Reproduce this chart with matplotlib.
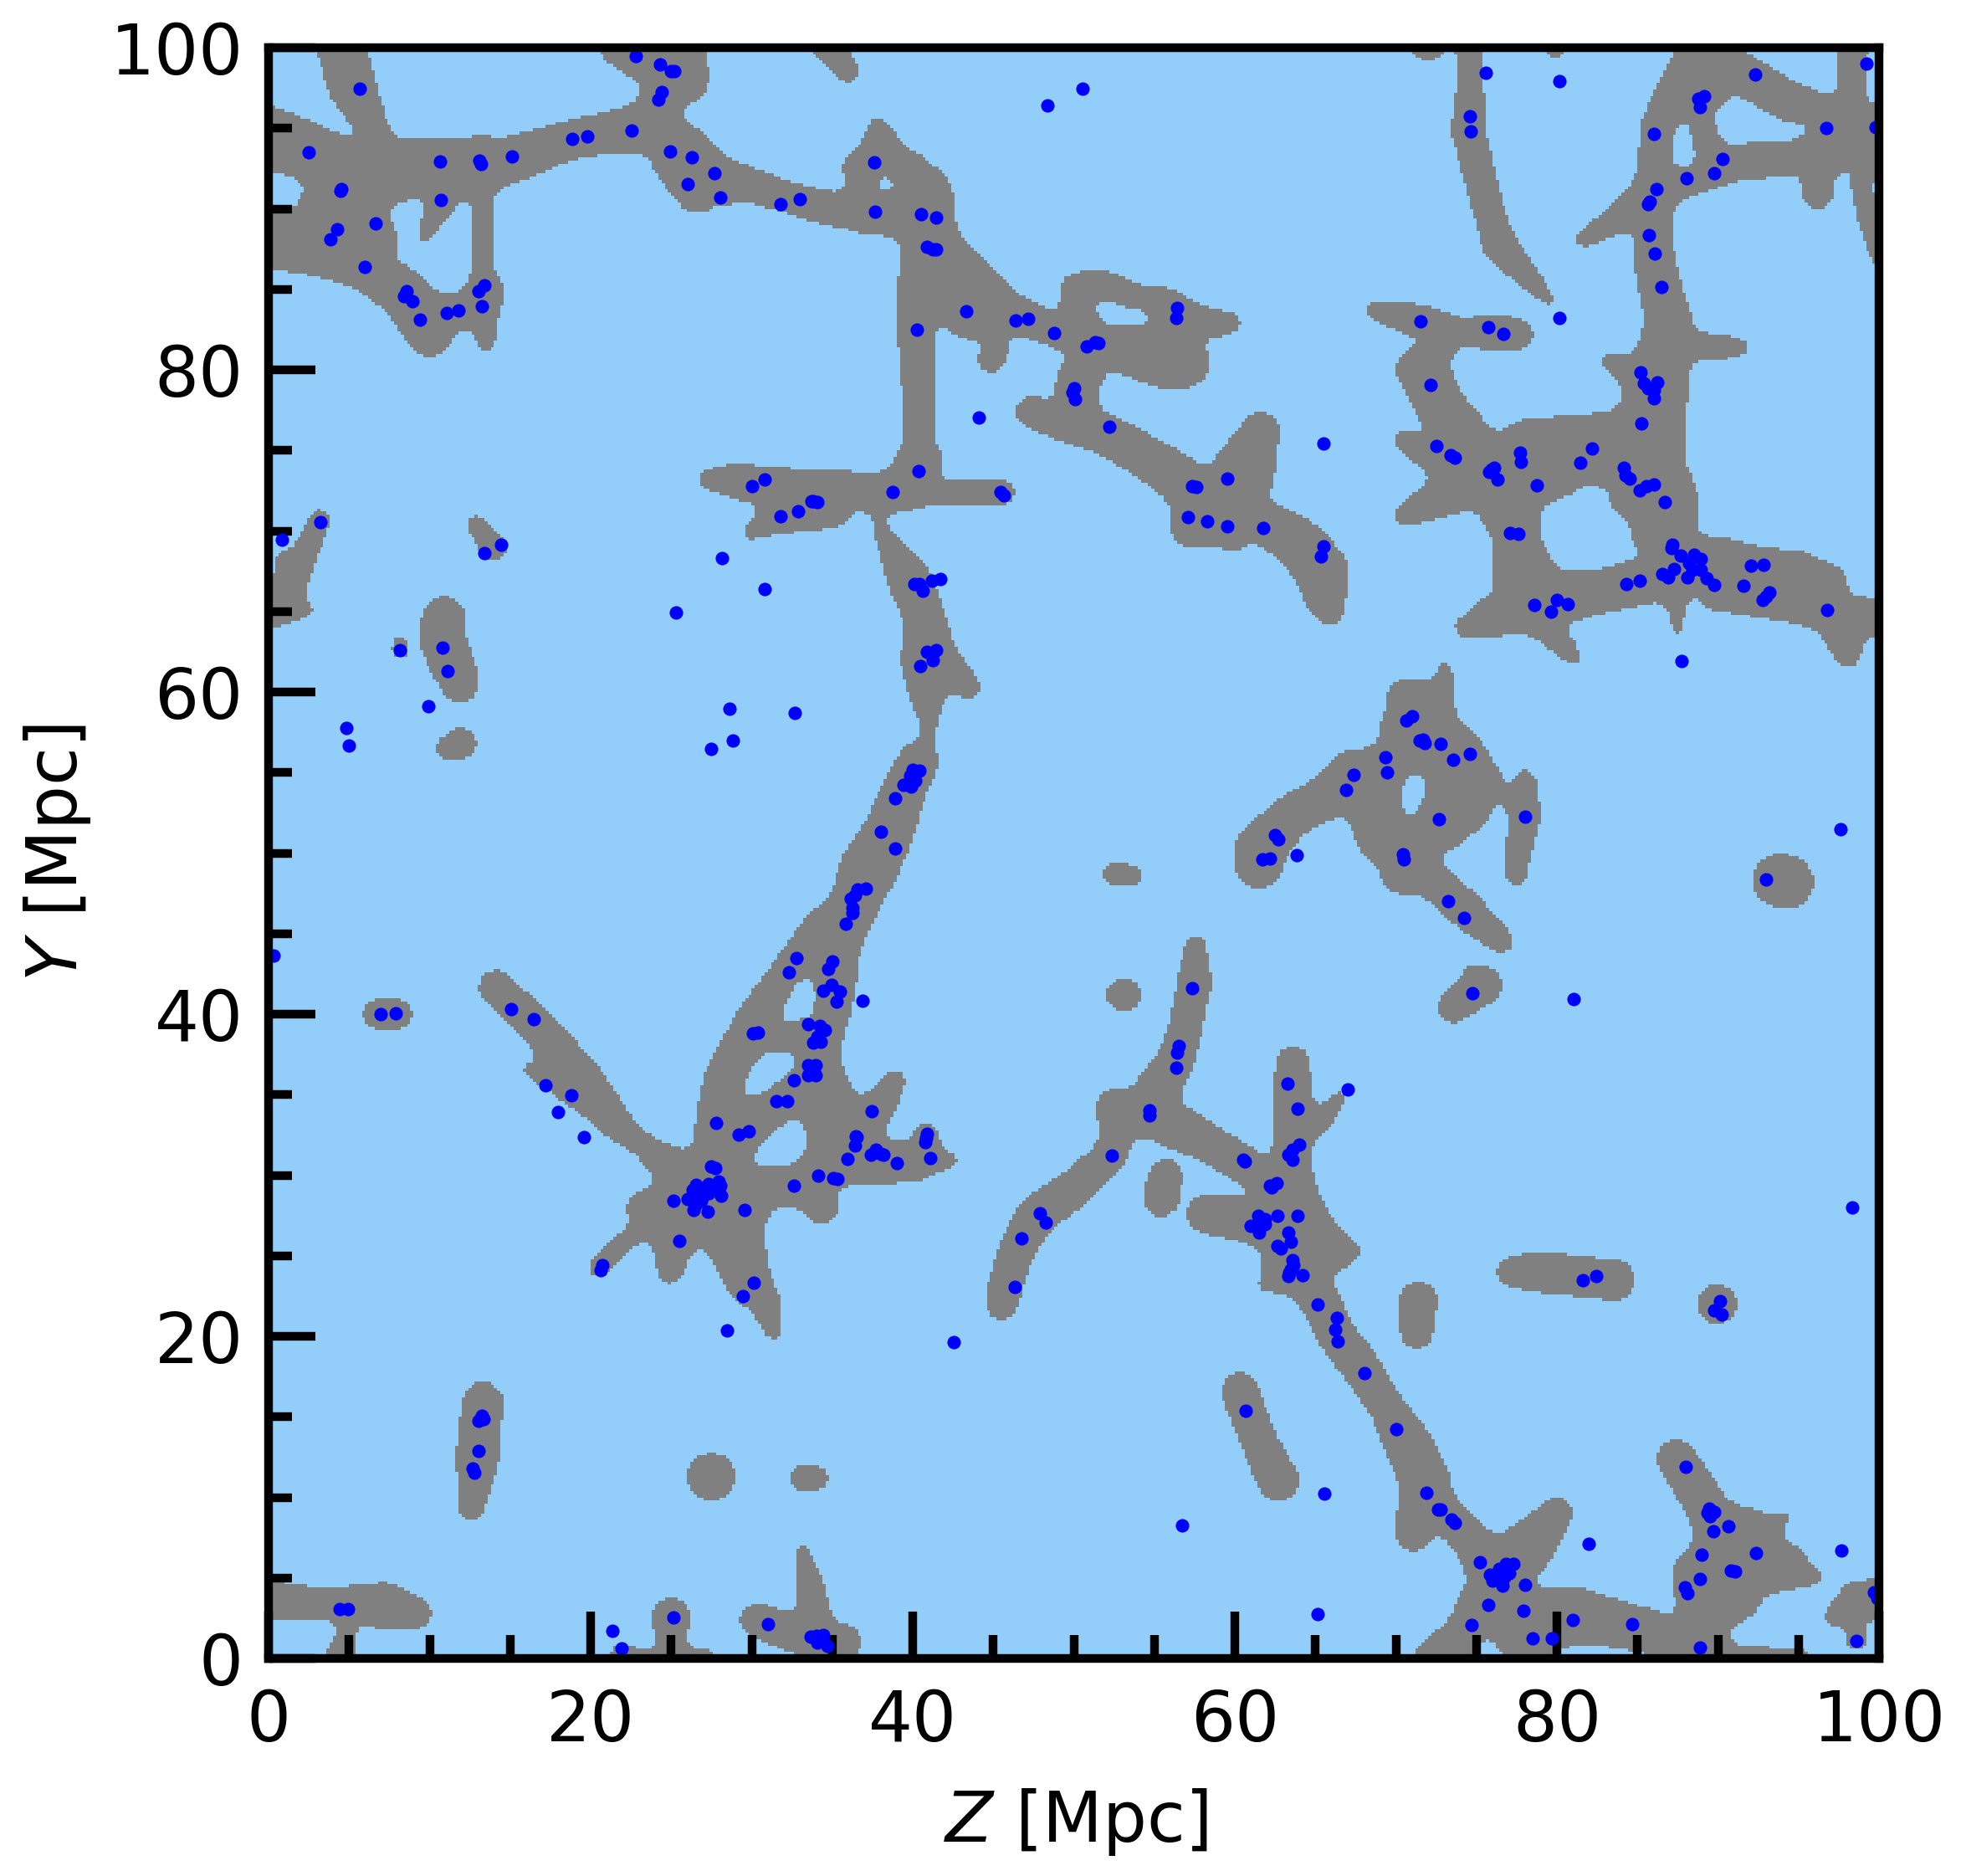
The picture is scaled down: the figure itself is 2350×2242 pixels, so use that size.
import numpy as np
import matplotlib
matplotlib.use("Agg")
import matplotlib.pyplot as plt
from matplotlib.colors import ListedColormap

# ---- halo positions (Z, Y) in Mpc ----
HALOS_TOP_LEFT = [(5.68,97.46),(2.47,93.5),(10.67,92.94),(13.1,92.98),(13.2,92.8),(15.13,93.24),(18.87,94.34),(19.81,94.51),
 (22.56,94.84),(22.78,99.5),(24.29,98.95),(25.0,98.53),(25.2,98.53),(24.44,97.25),(24.22,96.76),(24.95,93.55),(26.26,93.2),
 (27.7,92.2),(26.04,91.54),(28.03,90.71),(31.81,90.29),(33.0,90.6),(4.5,91.23),(4.46,91.12),(10.71,90.53),(6.67,89.09),
 (4.24,88.72),(3.83,88.08),(5.99,86.38),(8.55,84.89),(8.44,84.56),(8.96,84.26),(9.38,83.1),(11.08,83.52),(11.78,83.67),
 (13.42,85.24),(13.05,84.89),(13.23,83.93),(3.24,70.55),(0.85,69.44),(14.43,69.13),(13.42,68.6),(30.04,72.8),(30.83,73.18),
 (33.7,71.84),(32.9,71.23),(31.77,70.9),(28.18,68.3),(30.78,66.38)]
HALOS_TOP_MID = [(50.55,97.44),(48.38,96.4),(37.63,92.87),(37.67,89.81),(40.53,89.66),(41.48,89.44),(40.88,87.65),(41.23,87.47),
 (41.45,87.47),(43.33,83.63),(40.27,82.49),(46.4,83.06),(47.18,83.17),(48.8,82.29),(50.81,81.44),(51.33,81.7),(51.55,81.64),
 (56.43,83.82),(56.36,83.21),(50.02,78.84),(49.91,78.62),(50.09,78.2),(52.23,76.45),(44.08,77.02),(65.52,75.43),(59.55,73.24),
 (57.35,72.78),(57.61,72.72),(57.1,70.86),(58.28,70.6),(59.55,70.29),(61.79,70.18),(65.5,69.04),(65.37,68.43),(40.38,73.72),
 (38.74,72.43),(45.48,72.39),(45.65,72.21),(33.84,71.84),(34.06,71.8),(40.12,66.7),(40.4,66.7),(41.19,66.9),(41.74,67.0),(40.6,66.27)]
HALOS_TOP_RIGHT = [(75.56,98.45),(80.13,97.9),(99.24,99.0),(92.33,98.32),(89.13,97.0),(88.79,96.81),(88.9,96.33),(86.05,94.64),
 (74.6,95.74),(74.66,94.8),(96.74,95.02),(99.78,95.06),(90.29,93.09),(89.75,92.2),(88.06,91.89),(86.19,91.21),(85.79,90.42),
 (85.64,90.31),(85.73,88.37),(86.1,87.21),(86.51,85.13),(80.13,83.21),(71.51,82.99),(75.76,82.64),(76.7,82.25),(72.13,79.06),
 (85.2,79.86),(85.42,79.16),(86.21,79.2),(85.68,78.84),(86.03,78.73),(86.05,78.25),(85.27,76.67),(72.54,75.27),(73.4,74.68),
 (73.68,74.57),(76.1,73.94),(75.78,73.66),(75.96,73.81),(76.32,73.17),(77.72,74.86),(77.79,74.31),(82.2,75.12),(81.48,74.22),
 (78.73,72.82),(84.17,73.92),(84.26,73.48),(84.5,73.26),(85.14,72.5),(85.57,72.78),(86.05,72.89),(86.69,71.8),(77.09,69.87),
 (77.63,69.83),(87.19,69.15),(87.1,68.96),(87.69,68.45),(88.52,68.5),(88.96,68.28),(88.19,68.02),(88.41,67.58),(88.91,67.58),
 (88.08,67.1),(89.29,67.07),(89.75,66.64),(87.26,67.64),(86.56,67.32),(86.9,67.14),(85.16,66.9),(84.32,66.7),(92.06,67.84),
 (92.83,67.88),(91.56,66.59),(93.22,66.16),(93.0,65.94),(92.78,65.73)]
HALOS_MID_RIGHT = [(78.62,65.38),(80.02,65.7),(80.7,65.44),(79.65,64.98),(96.79,65.11),(87.76,61.92),(71.03,58.47),(70.66,58.23),
 (71.69,57.02),(71.8,56.83),(71.5,57.0),(72.8,56.8),(74.62,56.15),(73.57,55.78),(69.37,55.97),(69.44,54.99),(67.4,54.88),(66.92,53.9),
 (72.65,52.08),(78.05,52.26),(97.62,51.47),(93.0,48.34),(70.42,49.92),(70.51,49.63),(73.26,46.99),(74.25,46.0),(74.77,41.28),
 (81.05,40.91),(66.99,35.31)]
HALOS_MID_CENTRE = [(41.45,62.6),(40.89,62.51),(41.24,61.97),(40.47,61.59),(40.4,55.12),(40.0,55.17),(39.85,54.79),(40.18,54.47),
 (39.92,54.14),(39.42,54.25),(38.92,53.39),(38.0,51.3),(38.92,50.27),(37.08,47.8),(36.58,47.75),(36.42,47.36),(36.18,47.19),
 (36.25,46.6),(36.27,46.27),(35.86,45.61),(35.02,43.25),(34.76,42.81),(34.94,41.83),(34.46,41.46),(35.48,41.41),(35.29,40.8),
 (36.86,40.82),(33.52,39.38),(34.24,39.27),(34.54,38.99),(34.06,38.62),(33.84,38.22),(33.52,36.82),(33.95,36.82),(33.52,36.21),
 (33.95,36.21),(37.47,33.96),(36.47,32.43),(54.72,34.02),(54.72,33.74),(57.37,41.61),(56.54,38.05),(56.43,37.63),(56.38,36.65),
 (62.49,51.12),(62.7,50.86),(61.72,49.59),(62.16,49.66),(63.86,49.85),(63.29,35.69),(63.9,34.11)]
HALOS_MID_LEFT = [(25.32,64.96),(8.13,62.62),(10.78,62.73),(11.11,61.29),(9.9,59.14),(4.85,57.75),(5.01,56.65),(28.6,58.95),
 (32.68,58.69),(28.81,56.98),(27.46,56.46),(0.31,43.62),(32.77,43.49),(32.33,42.59),(6.97,39.99),(7.91,40.04),(15.04,40.3),
 (16.48,39.67),(30.1,38.79),(30.37,38.84),(34.28,38.29),(32.6,35.88),(31.53,34.59),(32.23,34.62),(17.18,35.58),(18.82,34.96),
 (17.95,33.92),(19.59,32.38),(27.79,33.26),(29.21,32.54),(29.84,32.71)]
HALOS_BOTTOM_LEFT = [(27.48,30.55),(27.74,30.44),(32.62,29.33),(26.54,29.41),(26.32,29.09),(26.65,28.76),(26.98,29.2),(27.3,29.46),
 (27.62,29.2),(27.96,29.63),(28.03,29.37),(28.12,28.72),(26.98,28.65),(26.04,28.5),(27.3,28.87),(26.54,28.21),(26.87,28.43),
 (26.37,27.84),(27.28,27.75),(25.12,28.41),(29.58,27.82),(25.52,25.9),(20.75,24.43),(20.64,24.12),(30.15,23.31),(29.47,22.48),
 (28.49,20.34),(13.23,15.07),(13.36,14.88),(13.05,14.77),(13.05,12.86),(12.68,11.77),(12.77,11.55),(4.39,3.05),(4.96,3.09),
 (21.36,1.69),(21.93,0.6),(25.16,2.57),(31.02,2.15)]
HALOS_BOTTOM_MID = [(36.51,32.37),(36.42,31.86),(35.96,31.01),(37.39,31.27),(37.71,31.56),(38.04,31.34),(38.2,31.27),(39.03,30.73),
 (40.88,32.58),(40.84,32.3),(40.78,32.04),(41.1,31.05),(34.15,29.96),(35.05,29.81),(35.31,29.79),(52.36,31.21),(60.52,30.95),
 (60.63,30.84),(62.59,29.5),(62.16,29.35),(62.31,29.24),(63.58,30.95),(63.31,31.27),(63.58,31.56),(64.01,31.89),(47.92,27.62),
 (48.27,27.08),(46.77,26.07),(46.33,23.05),(42.55,19.66),(61.46,27.49),(61.88,27.27),(61.5,27.01),(61.0,26.86),(61.88,26.94),
 (61.5,26.46),(62.66,27.49),(63.9,27.47),(63.34,26.44),(63.49,25.85),(62.66,25.63),(62.88,25.46),(63.58,24.71),(63.62,24.39),
 (63.47,24.17),(63.36,23.95),(63.31,23.73),(64.2,23.77),(65.15,22.0),(66.35,21.13),(66.24,20.41),(66.4,19.71),(60.69,15.36),
 (65.56,10.22),(56.74,8.25),(65.15,2.74),(33.67,1.37),(34.02,1.39),(34.45,1.47),(34.1,0.99),(34.72,0.77)]
HALOS_BOTTOM_RIGHT = [(98.32,27.99),(81.63,23.47),(82.42,23.73),(90.14,22.16),(89.77,21.59),(90.23,21.33),(68.06,17.72),(70.0,14.22),
 (87.98,11.88),(71.91,10.29),(72.63,9.24),(72.78,9.24),(73.44,8.6),(73.66,8.4),(81.99,7.11),(89.47,9.3),(89.79,9.08),(89.33,9.04),
 (89.5,8.82),(90.66,8.21),(89.73,7.88),(97.68,6.7),(89.0,6.44),(92.37,6.52),(90.78,5.45),(91.06,5.39),(88.9,4.93),(87.93,4.43),
 (88.11,4.03),(75.23,5.98),(77.31,5.87),(76.83,5.85),(76.39,5.54),(77.05,5.3),(75.84,5.21),(76.72,5.04),(76.02,4.82),(76.5,4.82),
 (76.61,4.53),(78.0,4.56),(75.76,3.35),(77.9,2.96),(81.0,2.39),(84.65,2.11),(74.71,2.06),(78.51,1.23),(79.67,1.23),(88.87,0.67),
 (99.67,4.12),(99.89,3.73),(98.58,1.08)]

# ---- filament spines: each path is a list of (Z, Y, half-width) in Mpc ----
WEB_TOP_LEFT = [
 [(4.3,101,1.5),(5.2,97.5,1.4),(6.75,94.5,.85)],
 [(0,94.4,1.9),(2.7,93.5,1.7),(5,92,2.2),(8,92.4,1.9),(10.5,92.7,1.6),(13.5,92.7,1.6),(15,93,1.4),(19.1,94.4,1.1),(23.5,95,1.5)],
 [(13.2,94.2,.5),(13.2,93,1)],
 [(23.5,95,1.5),(24.6,97,1.2),(25.5,98.2,1.8),(24,101,3.6)],
 [(24,95,1.4),(26,93.5,1.5),(28,92.1,1.1),(31.1,91.1,.95),(33.2,90.4,.95),(35.5,89.9,1.0),(37,90,1.5)],
 [(25,93,1.2),(26,92,1.4),(26.4,90.6,.85),(27.3,90.2,.35)],
 [(28,91,.5),(28.6,90.2,.2)],
 [(0,88.1,1.7),(3,88,2.1),(6,86.4,1.4),(8.5,84.7,1.45),(10,82.4,1.5)],
 [(4.8,90.5,2.5),(3,88,2.1)],
 [(6.6,89,1.1),(7.3,88,.75)],
 [(11.8,91.5,.6),(10.7,90.3,.85),(9.5,88,.25)],
 [(10,83.6,1.1),(13,83.8,1.1),(13.6,82,.6),(13.4,81.4,.3)],
 [(13.3,91.5,.7),(13.3,86,.7),(13.4,84.8,1.2),(13.1,83.8,1.2)],
 [(3.2,70.8,.6),(1.4,66.5,.9),(0.5,65.5,1.3),(-0.5,65,1.2)],
 [(0.75,69,.15),(0.9,66.5,.6)],
 [(3.1,65.2,.12),(1,65,.8)],
 [(4.6,65.8,.2),(4.7,65.8,.2)],
 [(12.7,70.6,.45),(14,68.9,.8)],
 [(34.5,100.5,.95),(36,98.5,.65)],
 [(36.6,96.5,.2),(36.8,96.2,.2)],
]
WEB_TOP_MID = [
 [(37.8,92.2,1.6),(37,90,1.5),(40,90.5,2.5),(41,89.5,1.6)],
 [(37,92.5,1.3),(38.5,92.5,1.6)],
 [(40.2,92.8,.7),(41,90,1.5)],
 [(37.7,95.7,.2),(38,94,1.3)],
 [(40.4,74.5,1.35),(40.3,75.75,.4),(40.4,76.5,.9),(40.4,78.5,.98),(40.2,82.9,1.15),(40.3,85,1.2),(40.8,87.6,1.5)],
 [(41,89,1.5),(41.5,87.5,1.6),(43.8,84.2,2.3),(46.5,83.4,1.1),(49.5,82.2,1.0),(51,81.8,1.0)],
 [(45.5,81.6,.5),(44.9,80.7,.85)],
 [(50.6,82.5,1.1),(50.2,85.0,1.0),(51.8,85.3,.87),(53.9,84.4,.8),(56.0,84.1,.9)],
 [(56.4,83.5,1.1),(57.2,83.1,.97),(58.5,82.9,.85),(59.9,82.9,.55)],
 [(51.5,81.7,1.0),(53.5,81.2,1.5),(55.5,80.9,2),(56.8,80.5,1.6)],
 [(56.4,83,1),(55.8,81.5,1.5)],
 [(51,80.5,1.2),(50.24,79.2,1.3),(50.2,77.5,1.2)],
 [(47.3,77.4,.9),(50,76.7,1.3),(52,76,1.2),(55,74.3,1.3),(57.5,72.5,1.5)],
 [(61.6,76.2,1.15),(60.5,73.5,2.0)],
 [(58,72,2),(60,72,1.8)],
 [(57.2,70.2,1.1),(60,70.4,1.5)],
 [(62,70.5,1.3),(64.3,69,1.55),(65.4,67.5,1.6),(65.6,65.8,1.25),(66,64.8,.7)],
 [(27.1,73.2,.5),(29,73.1,1.0),(31,72.8,1.2),(33,72.6,1.15),(36,72.5,1.15),(38.5,72.3,1.2),(41.5,72.5,.75),(45.5,72.4,.85)],
 [(29.6,69.7,.3),(31.3,70.7,.9),(33.5,71.2,1.1),(35,71.2,1.0)],
 [(38.7,72.4,.8),(40.4,74.5,1.35)],
 [(37.7,70.8,.2),(38.6,69,.7),(39.8,67,1.3),(40.8,64.5,1.25),(41,62,1.7),(40.9,60,1.15),(41,58,.45)],
 [(41.5,62,1.3),(43.5,60.3,.7)],
]
WEB_RIGHT = [
 [(74.6,101,.82),(74.6,97,.85),(74.5,94.9,1),(75.3,91.6,.9),(75.9,89.4,.9),(76.5,87.6,1),(78,86,.7),(79.6,84.2,.3)],
 [(72,100.6,1.3),(72.1,100.6,1.3)],
 [(79.9,100.2,.8),(80,100.5,.9)],
 [(86,92.3,.9),(86.2,95,1.0),(87.5,97.5,1.2),(89,99.5,1.6)],
 [(89.6,93.4,.9),(89.2,95,1.15),(89,98,1.7),(89.5,100.5,1.8)],
 [(90.5,99,1.2),(93.8,97,1.2),(97,95.3,1.4)],
 [(98.4,101,.9),(98.3,97,.82),(98,95,1.5)],
 [(87,91.7,.9),(88.5,91.7,.8),(91,92.9,1.1),(93.8,93.1,1.05),(96.5,93.7,1.3),(98,94.4,2.0),(101,94.4,2)],
 [(96.3,92.5,1),(96.2,91,.95)],
 [(99.6,91.5,1.3),(100,88.5,1.0),(100.3,86.8,.6)],
 [(81.5,88,.4),(84,89.5,.9),(86,91,1.3),(87.5,91.6,1.0)],
 [(86,91,1.2),(86,87.3,1.2),(86.4,85.1,1.25),(87,82.9,1.4),(86.6,81,1.6),(86.2,79,1.9),(85.8,76,2.1),(85.5,74,2.3),(86.5,72,2.2),(86.6,70.2,2),(87.5,68.5,1.7)],
 [(88.5,81.5,.85),(90.5,81.4,.65),(91.7,81.4,.35)],
 [(82.9,80.6,.35),(84.5,80,1.0),(86,79.2,1.9)],
 [(78.5,74.9,2.1),(81.7,75,2.1),(84.5,75.2,2.4)],
 [(79.3,72.6,.8),(80.5,72.9,.7)],
 [(84,72.4,.8),(84.4,71.6,.8)],
 [(68.6,83.7,.55),(71.6,83,1.0),(74,82.4,.75),(76.3,82.3,1.1),(77.6,82.2,.9)],
 [(73.8,82,.35),(72.8,81,.7),(71.6,80,1.5),(73,77.4,1.5),(74.5,75.2,1.8),(76.5,73,2.3),(78.5,74.5,2)],
 [(70.3,75.7,.5),(72.5,74.6,1.1),(74.5,73.5,1.3)],
 [(70.6,71,.7),(72.6,72,1.1),(74.5,73,1.8)],
 [(77,72.5,2.4),(77.4,69.8,1.37),(77.9,67.6,1.9)],
 [(74.2,64,.55),(76,64.7,1.2),(78.5,65.6,1.9),(82.5,66.2,1.3),(86,67,1.4),(88.5,67.5,1.5)],
 [(79,64.3,.9),(80.6,62.7,.6),(81.2,61.7,.3)],
 [(87.4,66,.6),(87.5,63.4,.2)],
 [(90,66.3,1.2),(92.7,65.8,1.1),(95,65.4,1.1),(97.2,64.9,1.3),(100.5,64.5,1.05)],
 [(97.2,64.9,1.3),(97.9,63,1.0),(98.1,62.1,.6)],
 [(88.5,68,1.7),(90,68.3,1.3),(92.9,68.3,.6),(95,67.9,.85),(97,66.8,1.0)],
 [(60.8,50.7,.7),(62,50.8,1.4),(63.8,52.5,1.25),(66,53.6,1.35),(67.5,54.5,1.9),(69,54,2)],
 [(61.5,49.2,1.4),(62,50.8,1.4)],
 [(70.8,59.4,1.4),(72,59.3,1.3),(72.9,57,1.5),(74,56,1.6),(75.5,54.3,1.15)],
 [(71,57.5,2),(72.8,55,2.5),(72.5,52.5,1.7),(70.5,49,1.5)],
 [(74.5,53,1.5),(73,51.5,1.3)],
 [(68,52.6,1),(68.8,50.5,1.0)],
 [(73,62,.2),(73,60,.7)],
 [(70,51.5,1.5),(69.5,52.5,1.5),(69.5,55,1.9)],
 [(71.5,49,1.1),(74.3,46.5,1.1),(76.3,44.8,.8),(76.6,44.5,.7)],
 [(78,54.6,.65),(78,52.3,.95),(77.6,50,.7),(77.5,48.6,.6)],
 [(76.7,53.4,.3),(77.8,53,.5)],
 [(73.5,40.4,.9),(75.4,41.8,1.2)],
 [(74.5,43,.2),(74.9,42,.8)],
 [(93.8,48.3,1.6),(94.3,48.2,1.6)],
 [(89.9,22,1.18),(90,22,1.18)],
 [(77.2,24,.9),(78.8,24,1.2),(83.6,23.5,1.2)],
 [(71.4,22.3,1.1),(71.3,20.2,.95)],
 [(60.3,16.6,1.1),(61.5,13.5,1.05),(62.7,11,1.25)],
]
WEB_CENTRE = [
 [(41,58,.45),(40.9,57,.35),(40.34,55.7,1.2),(39.26,53.5,1.35),(38.55,51.3,1.5),(37.3,49.1,1.75),(36.4,46.9,1.5),(35,44.7,1.8),(35.15,42.55,1.35),(34.7,40.36,1.4),(34,38.2,1.5),(34,37,1.4),(34.5,35,1.7),(35.5,32,2)],
 [(34.5,45,1.5),(32,42.55,.85),(30.04,39.3,1.2),(28.3,36,1.2),(27.85,33.8,1.2),(27.7,30,1.5)],
 [(30.8,38.5,.75),(34.5,38.5,.75)],
 [(34.2,37,1.2),(32.5,35.3,1.4),(30.3,33.5,1.2),(28.3,31.5,1.5)],
 [(28.5,29,1.5),(32,29.3,1.2),(33.8,29.5,1.3),(34.3,28.1,1.1)],
 [(33.8,29.8,1.3),(35.5,31.5,2.0),(38,30.9,1.4),(40,30.7,1.1),(41.5,31,.7),(42.8,30.9,.25)],
 [(40.8,32.5,.75),(40.8,31,.9)],
 [(38.9,35.9,.65),(38.3,34.9,.9),(37.3,33.5,1.1),(36,32,1.5)],
 [(14.1,41.7,1.0),(17,38.9,1.1),(19.5,36,1.2),(21.4,33.35,1.0),(23.2,31.9,.65),(25,30.5,1.2),(27,29.5,1.8)],
 [(16,36.6,.3),(16.9,36.3,.55),(20.2,34,.55),(21.4,33.35,.8)],
 [(23.5,27.9,1.2),(25.5,28,1.6),(27.5,28,2.5),(29.5,28,1.6)],
 [(22.6,26.35,.5),(20.5,24.3,.65)],
 [(24,27,.8),(22.6,26.35,.5)],
 [(25.2,26,1.4),(24.9,24,.75)],
 [(28.5,27.5,2),(29.7,23.6,1.4),(30.9,22,.95),(31.4,19.9,.3)],
 [(63.6,37,1.0),(63.6,34,1.2),(63.6,31.2,1.1),(63.6,29,1.4),(64,27,2)],
 [(65,33,.7),(66.6,35,.3)],
 [(64.6,33.6,.7),(65.5,33.5,.6)],
 [(57.6,44.4,.55),(57.5,42,1.0),(56.9,39,.95),(56.3,37,1.1),(55.3,35.5,1.3),(55,34,1.6)],
 [(52.9,34,1.45),(55,33.8,1.5),(58.3,32,1.1),(60.5,30.7,1.1),(62.5,29.5,1.2)],
 [(52.8,33,1),(52.4,31.4,.95),(49.8,29,1.1),(47.6,27.45,1.2),(46.5,25.5,1.05),(45.75,23.1,1.0),(45.5,22,.95)],
 [(55.7,30,1.0),(55.4,28.5,1.05)],
 [(58.3,27.6,1.2),(60.5,27.3,1.3),(62.5,27,1.8)],
 [(64.5,26,2.3),(66,25.3,1.3),(67.2,25.3,.6)],
 [(62.8,24.2,1.5),(61.8,23,.35)],
 [(63.5,23.5,1.2),(63.9,22.7,.5)],
 [(64.2,24,1.5),(65.2,22.4,1.2),(66.2,20.2,1.15),(68,17.9,1.15),(69.3,15.8,1.0),(70.6,13.6,1.4),(71.9,11,1.5),(71.1,7.8,1.1)],
 [(71.9,10.5,1.2),(73,9.2,1.0),(75,7,1.2),(76.5,5,2)],
 [(76.8,5.5,1.8),(78.5,7.2,1.5),(80,9.0,.95)],
 [(75.5,3.5,1.5),(74,1.3,1.1),(72.5,0,1.3)],
 [(78,2,2.2),(81,2.7,1.7),(84,2.1,1.4),(86,1.6,1.3),(87.5,1,1.2)],
 [(87.4,12.4,1.15),(88.7,10.4,1.2),(89.8,8.5,1.4),(91.7,7.1,2.2),(89.7,4.9,2.5),(89.2,2.75,1.75),(88.5,0,1.7)],
 [(90.5,4.4,2.3),(91,5.8,2.1),(94,5.7,1.5),(96.3,4.9,.3)],
 [(92.3,7.5,1.2),(94.3,8.9,.25)],
 [(88,0,1.5),(91,-.3,1.1),(95,-.6,1.1)],
 [(97.2,2.6,.65),(98.6,3.6,1.1),(100.2,3.7,1.3)],
 [(98.5,2,.5),(98.6,1,.6)],
]
WEB_BLOBS = [
 [(10.9,64.6,1.3),(10.75,63.3,1.35),(11.3,62,1.35),(11.9,60.5,1.15)],
 [(8.1,63.7,.2),(8.2,62.5,.5)],
 [(11.2,56.5,.8),(12,56.8,.9)],
 [(6.9,40,1.0),(8.1,40,.85)],
 [(52.5,48.7,.75),(54,48.6,.45)],
 [(53.1,41.2,1.05),(53.2,41.2,1.05)],
 [(13.3,15.95,1.2),(13,12.5,1.3),(12.6,9.3,.75)],
 [(27.4,11.27,1.4),(27.6,11.27,1.4)],
 [(33.2,11.2,.85),(33.9,11.2,.82)],
 [(0,3.65,1.1),(3,3.4,.93),(5.5,3.2,1.0),(7.1,3.3,1.4),(9.05,2.8,1.05)],
 [(5.4,4.0,.6),(5.5,3.5,.6)],
 [(4.9,1.8,.4),(4.5,0,1.0)],
 [(21.9,.3,.6),(23.5,-.3,.6)],
 [(25,2.6,1.1),(25,0,.9)],
 [(26.8,-.3,.9),(27,-.3,.9)],
 [(30.3,2.4,1),(32.2,1.7,1.1),(34.5,1.0,1.3),(35.5,1,1.2)],
 [(33,7.2,.25),(33.6,4.9,.75),(34,2,1)],
]
# light gaps carved out of the filaments
WEB_GAPS = [
 [(38.2,91.6,.55),(38.6,91.4,.45)],
 [(40.9,92,.12),(41.1,91.8,.1)],
 [(51.4,84.2,.3),(52,83.8,.45),(54.5,83.5,.15)],
 [(54,81.7,.12),(55.4,81.6,.12)],
 [(71.2,54.2,.8),(70.9,52.6,.5)],
 [(100.1,91,.5),(100.1,91.5,.6)],
 [(76,-.5,.3),(76,1.2,.2)],
 [(92.9,67.45,.2),(93.9,66.9,.15)],
 [(90.5,3.5,.1),(91.2,4.3,.2)],
 [(33.8,41,.15),(34,44,.1)],
 # open spaces between branches
 [(33.3,41.5,.3),(33.7,39.9,.35)],
 [(32.3,36.9,.5),(30.3,34.9,.12)],
 [(31,37.3,.3),(32.6,37.3,.3)],
 [(31.2,31.3,.6),(32.3,31.8,.9),(33,32.2,.7)],
 [(87.9,94.2,.55),(88,95.7,.1)],
 [(90,96,.4),(90.6,94,.25)],
 [(92,95.2,.8),(94.5,94.8,.55),(96,95,.2)],
]

ALL_HALOS = (HALOS_TOP_LEFT + HALOS_TOP_MID + HALOS_TOP_RIGHT + HALOS_MID_RIGHT + HALOS_MID_CENTRE
             + HALOS_MID_LEFT + HALOS_BOTTOM_LEFT + HALOS_BOTTOM_MID + HALOS_BOTTOM_RIGHT)
ALL_WEB = WEB_TOP_LEFT + WEB_TOP_MID + WEB_RIGHT + WEB_CENTRE + WEB_BLOBS

GRID = 500
centres = (np.arange(GRID) + 0.5) * 100.0 / GRID
gz, gy = np.meshgrid(centres, centres)


def capsules(paths, grow=0.0):
    mask = np.zeros_like(gz, dtype=bool)
    for path in paths:
        for (z0, y0, r0), (z1, y1, r1) in zip(path[:-1], path[1:]):
            dz, dy = z1 - z0, y1 - y0
            t = np.clip(((gz - z0) * dz + (gy - y0) * dy) / max(dz * dz + dy * dy, 1e-9), 0, 1)
            dist = np.hypot(gz - z0 - t * dz, gy - y0 - t * dy)
            mask |= dist < r0 + t * (r1 - r0) + grow
    return mask


def soften(mask, width=5):
    """Round sharp corners of the outline with a small box average."""
    arr = np.pad(mask.astype(float), width, mode="edge")
    kernel = np.ones(width) / width
    for _ in range(2):
        arr = np.apply_along_axis(lambda v: np.convolve(v, kernel, mode="same"), 0, arr)
        arr = np.apply_along_axis(lambda v: np.convolve(v, kernel, mode="same"), 1, arr)
    return arr[width:-width, width:-width] > 0.47


web = capsules(ALL_WEB, grow=0.05) & ~capsules(WEB_GAPS)
web = soften(web)

fig = plt.figure(figsize=(2350 / 300, 2242 / 300), dpi=300)
ax = fig.add_axes([321 / 2350, 1 - 1982 / 2242, 1925 / 2350, 1925 / 2242])
ax.imshow(web.astype(int), origin="lower", extent=(0, 100, 0, 100), interpolation="nearest",
          cmap=ListedColormap(["#93cefb", "#808080"]), vmin=0, vmax=1, aspect="auto", zorder=1)
hz, hy = zip(*ALL_HALOS)
ax.scatter(hz, hy, s=15, color="#0000ff", linewidths=0, zorder=3, clip_on=True)

ax.set_xlim(0, 100)
ax.set_ylim(0, 100)
ax.set_xticks(np.arange(0, 101, 20))
ax.set_yticks(np.arange(0, 101, 20))
ax.set_xticks(np.arange(0, 101, 5), minor=True)
ax.set_yticks(np.arange(0, 101, 5), minor=True)
ax.tick_params(which="major", direction="in", length=13.4, width=2.5, labelsize=20, zorder=5)
ax.tick_params(which="minor", direction="in", length=6.8, width=2.5, zorder=5)
ax.tick_params(axis="y", which="major", pad=7.3)
ax.tick_params(axis="x", which="major", pad=8.3)
for s in ax.spines.values():
    s.set_linewidth(2.5)
    s.set_zorder(6)
ax.set_xlabel(r"$Z$ [Mpc]", fontsize=20)
ax.set_ylabel(r"$Y$ [Mpc]", fontsize=20)
ax.xaxis.set_label_coords((1286 - 321) / 1925, -(2177 - 1982) / 1925)
ax.yaxis.set_label_coords((69 - 321) / 1925, (1982 - 1019) / 1925)
ax.xaxis.label.set_verticalalignment("center")
ax.yaxis.label.set_verticalalignment("center")
fig.savefig("out.png", dpi=300, facecolor="white")
